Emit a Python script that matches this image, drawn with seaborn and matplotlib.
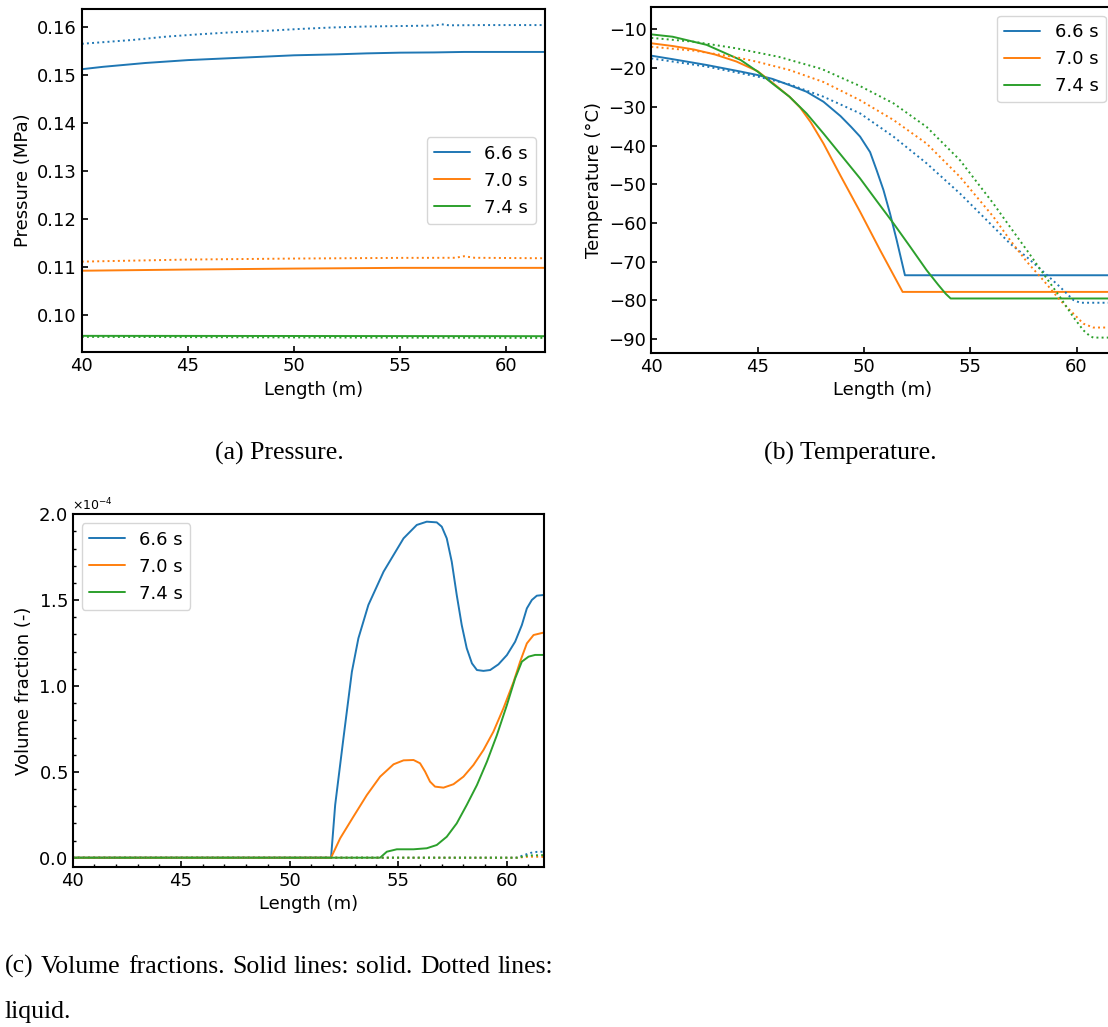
import matplotlib
matplotlib.use("Agg")
import matplotlib.pyplot as plt
import seaborn as sns
from matplotlib.ticker import MultipleLocator, AutoMinorLocator

# ---------------- data ----------------
labels = ["6.6 s", "7.0 s", "7.4 s"]

# (a) Pressure (MPa)
p_L_s6 = [40, 41, 42, 43, 44, 45, 46, 47, 48, 49, 50, 52, 53.4, 55, 56.6, 58, 61.8]
p_s6 = [0.1512, 0.1517, 0.1521, 0.1525, 0.1528, 0.1531, 0.1533, 0.1535, 0.1537, 0.1539,
        0.1541, 0.1543, 0.1545, 0.15465, 0.1547, 0.1548, 0.1548]
p_L_l6 = [40, 40.9, 42.4, 44.0, 45.6, 47.1, 48.7, 50.3, 51.8, 53.4, 55.0, 56.6, 56.95, 57.3, 59, 61.8]
p_l6 = [0.1565, 0.1568, 0.1573, 0.1580, 0.1585, 0.1589, 0.1592, 0.1596, 0.1599, 0.1601,
        0.1602, 0.1603, 0.16056, 0.16035, 0.1604, 0.1604]
p_L_s70 = [40, 45, 50, 55, 61.8]
p_s70 = [0.1092, 0.10945, 0.10965, 0.1098, 0.1098]
p_L_l70 = [40, 45, 50, 55, 57.6, 58.0, 58.5, 61.8]
p_l70 = [0.1111, 0.11153, 0.11174, 0.11188, 0.1119, 0.11222, 0.1119, 0.1118]
p_L_s74 = [40, 50, 61.8]
p_s74 = [0.09563, 0.0956, 0.09556]
p_L_l74 = [40, 50, 61.8]
p_l74 = [0.09542, 0.0953, 0.0952]

# (b) Temperature (degC)
t_L_s6 = [40, 41, 42.6, 44.2, 45, 45.7, 46.5, 47.3, 48.1, 48.9, 49.4, 49.82, 50.29, 50.6,
          50.92, 51.23, 51.54, 51.78, 51.93, 61.8]
t_s6 = [-16.8, -17.7, -19.2, -20.9, -21.8, -22.8, -24.4, -26.1, -28.7, -32.4, -35.2, -37.7,
        -41.7, -46.4, -51.5, -57.6, -64.4, -70.0, -73.5, -73.5]
t_L_l6 = [40, 42.6, 45, 46.5, 48.1, 49.82, 51.39, 52.95, 54.52, 56.09, 56.87, 57.66, 58.44,
          59.22, 59.85, 60.17, 61.8]
t_l6 = [-17.5, -19.6, -22.2, -24.2, -27.4, -31.7, -37.7, -44.6, -52.4, -61.0, -65.3, -68.8,
        -72.6, -76.5, -79.9, -80.6, -80.6]
t_L_s70 = [40, 41, 42, 43, 44, 45, 45.7, 46.5, 47.0, 47.5, 48.1, 48.9, 49.82, 50.76, 51.82, 61.8]
t_s70 = [-13.6, -14.3, -15.2, -16.5, -18.3, -20.8, -23.8, -27.4, -30.2, -34.0, -39.5, -47.8,
         -57.1, -67.0, -77.8, -77.8]
t_L_l70 = [40, 42, 44, 45, 46.5, 48.1, 49.82, 51.39, 52.95, 54.52, 56.09, 56.87, 57.66, 58.44,
           59.22, 59.85, 60.32, 60.79, 61.8]
t_l70 = [-14.5, -15.5, -17.2, -18.4, -20.5, -23.6, -28.3, -33.4, -39.5, -48.1, -58.4, -64.4,
         -70.0, -74.8, -79.9, -83.4, -86.0, -87.0, -87.0]
t_L_s74 = [40, 41, 42.6, 44.2, 45, 45.7, 46.5, 47.3, 48.1, 48.9, 49.82, 50.6, 51.39, 52.17,
           52.95, 53.5, 53.85, 54.08, 61.8]
t_s74 = [-11.3, -11.9, -14.0, -17.9, -20.9, -24.0, -27.4, -31.7, -36.9, -42.3, -48.5, -54.3,
         -60.1, -66.1, -72.2, -76.0, -78.3, -79.5, -79.5]
t_L_l74 = [40, 42, 44, 46, 48, 49.82, 51.39, 52.95, 54.52, 56.09, 56.87, 57.66, 58.44, 59.22,
           59.85, 60.32, 60.64, 60.79, 61.8]
t_l74 = [-12.2, -13.2, -14.9, -17.1, -20.2, -24.65, -29.1, -35.2, -43.8, -55.0, -61.0, -67.0,
         -73.1, -79.1, -84.3, -87.7, -89.25, -89.6, -89.6]

# (c) Volume fractions (-)
v_L_s6 = [40, 51.91, 52.10, 52.48, 52.87, 53.17, 53.63, 54.33, 55.25, 55.86, 56.32, 56.78,
          57.01, 57.24, 57.47, 57.70, 57.93, 58.16, 58.40, 58.63, 58.93, 59.24, 59.62, 60.01,
          60.39, 60.70, 60.93, 61.16, 61.39, 61.70]
v_s6 = [0, 0, 0.307e-4, 0.695e-4, 1.083e-4, 1.278e-4, 1.472e-4, 1.666e-4, 1.860e-4, 1.938e-4,
        1.957e-4, 1.953e-4, 1.928e-4, 1.860e-4, 1.724e-4, 1.530e-4, 1.355e-4, 1.220e-4,
        1.132e-4, 1.093e-4, 1.088e-4, 1.093e-4, 1.126e-4, 1.180e-4, 1.258e-4, 1.355e-4,
        1.452e-4, 1.501e-4, 1.526e-4, 1.530e-4]
v_L_s70 = [40, 51.91, 52.33, 52.94, 53.56, 54.17, 54.79, 55.25, 55.71, 56.01, 56.24, 56.47,
           56.70, 57.09, 57.55, 58.01, 58.47, 58.93, 59.39, 59.85, 60.32, 60.62, 60.93, 61.24, 61.70]
v_s70 = [0, 0, 0.113e-4, 0.239e-4, 0.365e-4, 0.472e-4, 0.544e-4, 0.567e-4, 0.569e-4, 0.550e-4,
         0.502e-4, 0.443e-4, 0.414e-4, 0.408e-4, 0.428e-4, 0.472e-4, 0.540e-4, 0.627e-4,
         0.734e-4, 0.870e-4, 1.025e-4, 1.142e-4, 1.248e-4, 1.297e-4, 1.311e-4]
v_L_s74 = [40, 54.17, 54.48, 54.94, 55.71, 56.32, 56.78, 57.24, 57.70, 58.16, 58.63, 59.09,
           59.55, 60.01, 60.39, 60.70, 61.01, 61.31, 61.70]
v_s74 = [0, 0, 0.035e-4, 0.049e-4, 0.049e-4, 0.055e-4, 0.074e-4, 0.122e-4, 0.200e-4, 0.307e-4,
         0.423e-4, 0.559e-4, 0.714e-4, 0.889e-4, 1.044e-4, 1.142e-4, 1.171e-4, 1.181e-4, 1.181e-4]
v_L_l6 = [40, 60.45, 60.8, 61.1, 61.4, 61.72]
v_l6 = [0, 0, 0.015e-4, 0.028e-4, 0.034e-4, 0.035e-4]
v_L_l70 = [40, 60.5, 61.0, 61.72]
v_l70 = [0, 0, 0.006e-4, 0.005e-4]
v_L_l74 = [40, 60.5, 61.0, 61.72]
v_l74 = [0, 0, 0.013e-4, 0.015e-4]

captions = ["(a) Pressure.", "(b) Temperature."]
caption_c1 = "(c) Volume fractions. Solid lines: solid. Dotted lines:"
caption_c2 = "liquid."

# ---------------- style ----------------
sns.set_style("ticks", {"xtick.direction": "in", "ytick.direction": "in",
                        "axes.edgecolor": "black", "xtick.color": "black",
                        "ytick.color": "black", "text.color": "black",
                        "axes.labelcolor": "black"})
plt.rcParams.update({
    "font.family": ["DejaVu Sans"],
    "font.size": 13, "axes.labelsize": 13, "xtick.labelsize": 13,
    "ytick.labelsize": 13, "legend.fontsize": 13,
    "axes.linewidth": 1.5,
    "xtick.major.width": 1.2, "ytick.major.width": 1.2,
    "xtick.major.size": 4, "ytick.major.size": 4,
    "xtick.minor.size": 2.2, "ytick.minor.size": 2.2,
    "xtick.minor.width": 1.0, "ytick.minor.width": 1.0,
})
colors = sns.color_palette("tab10")[:3]
LW = 1.4

W, H = 1108, 1027
fig = plt.figure(figsize=(W / 100, H / 100), dpi=100)


def pos(l, t, r, b):
    return [l / W, 1 - b / H, (r - l) / W, (b - t) / H]


ax_a = fig.add_axes(pos(81.8, 9, 544.6, 352.3))
ax_b = fig.add_axes(pos(651.3, 6.7, 1114.8, 352.7))
ax_c = fig.add_axes(pos(72.5, 514.3, 544.0, 866.7))


def draw(ax, solids, dotteds):
    for (x, y), c, lab in zip(solids, colors, labels):
        sns.lineplot(x=x, y=y, ax=ax, color=c, lw=LW, label=lab)
    for (x, y), c in zip(dotteds, colors):
        sns.lineplot(x=x, y=y, ax=ax, color=c, lw=LW, linestyle=":")


draw(ax_a, [(p_L_s6, p_s6), (p_L_s70, p_s70), (p_L_s74, p_s74)],
     [(p_L_l6, p_l6), (p_L_l70, p_l70), (p_L_l74, p_l74)])
draw(ax_b, [(t_L_s6, t_s6), (t_L_s70, t_s70), (t_L_s74, t_s74)],
     [(t_L_l6, t_l6), (t_L_l70, t_l70), (t_L_l74, t_l74)])
draw(ax_c, [(v_L_s6, v_s6), (v_L_s70, v_s70), (v_L_s74, v_s74)],
     [(v_L_l6, v_l6), (v_L_l70, v_l70), (v_L_l74, v_l74)])

# (a)
ax_a.set_xlim(40, 61.8)
ax_a.set_ylim(0.0922, 0.16375)
ax_a.xaxis.set_major_locator(MultipleLocator(5))
ax_a.yaxis.set_major_locator(MultipleLocator(0.01))
ax_a.set_xlabel("Length (m)")
ax_a.set_ylabel("Pressure (MPa)")
ax_a.legend(loc="center right")

# (b)
ax_b.set_xlim(40, 61.8)
ax_b.set_ylim(-93.5, -4.15)
ax_b.xaxis.set_major_locator(MultipleLocator(5))
ax_b.yaxis.set_major_locator(MultipleLocator(10))
ax_b.set_xlabel("Length (m)")
ax_b.set_ylabel("Temperature (°C)")
ax_b.legend(loc="upper right")

# (c)
ax_c.set_xlim(40, 61.72)
ax_c.set_ylim(-0.0524e-4, 2.0e-4)
ax_c.xaxis.set_major_locator(MultipleLocator(5))
ax_c.xaxis.set_minor_locator(AutoMinorLocator(5))
ax_c.yaxis.set_major_locator(MultipleLocator(0.5e-4))
ax_c.yaxis.set_minor_locator(AutoMinorLocator(5))
ax_c.ticklabel_format(style="sci", axis="y", scilimits=(0, 0), useMathText=True)
ax_c.yaxis.get_offset_text().set_fontsize(9)
ax_c.set_xlabel("Length (m)")
ax_c.set_ylabel("Volume fraction (-)")
ax_c.legend(loc="upper left")

for ax in (ax_a, ax_b, ax_c):
    ax.tick_params(which="both", direction="in", top=False, right=False)

# ---------------- captions ----------------
serif = ["Liberation Serif", "DejaVu Serif"]
CFS = 18.5
fig.text(279 / W, 1 - 460 / H, captions[0], ha="center", va="baseline",
         family=serif, fontsize=CFS)
fig.text(850 / W, 1 - 460 / H, captions[1], ha="center", va="baseline",
         family=serif, fontsize=CFS)

# justified first line of caption (c)
words = caption_c1.split(" ")
x0, x1 = 5.0, 553.0
yb = 1 - 973 / H
texts = [fig.text(0, yb, w, ha="left", va="baseline", family=serif, fontsize=CFS)
         for w in words]
fig.canvas.draw()
rend = fig.canvas.get_renderer()
widths = [t.get_window_extent(rend).width for t in texts]
gap = (x1 - x0 - sum(widths)) / (len(words) - 1)
xc = x0
for t, wd in zip(texts, widths):
    t.set_x(xc / W)
    xc += wd + gap
fig.text(x0 / W, 1 - 1018 / H, caption_c2, ha="left", va="baseline",
         family=serif, fontsize=CFS)

fig.savefig("out.png", dpi=100)
